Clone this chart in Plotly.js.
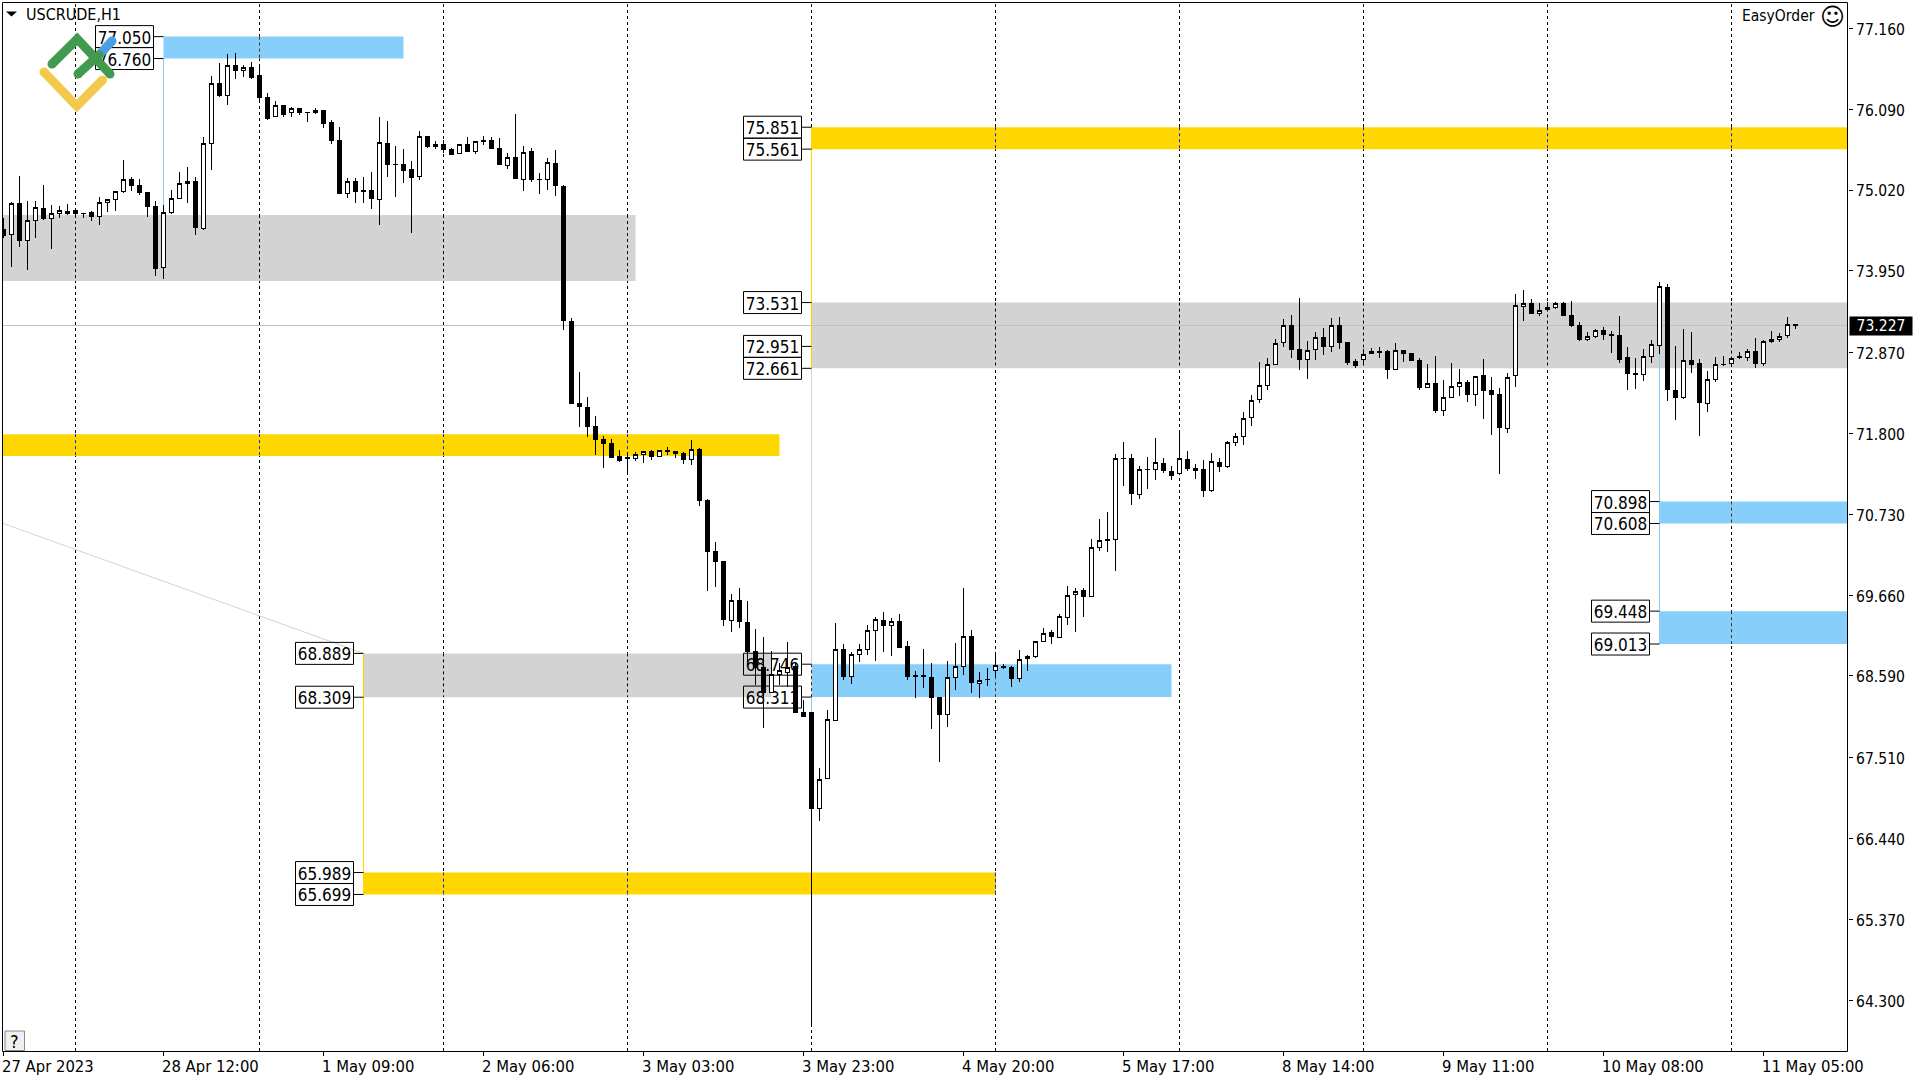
<!DOCTYPE html>
<html>
<head>
<meta charset="utf-8">
<script src="https://cdn.plot.ly/plotly-3.0.1.min.js"></script>
<style>html,body{margin:0;padding:0;background:#fff}#chart{width:1920px;height:1080px}
.boxes path{shape-rendering:crispEdges}
.layer-below .shapelayer path{shape-rendering:crispEdges}</style>
</head>
<body>
<div id="chart"></div>
<script>
const symbolName = "USCRUDE,H1";
const advisorName = "EasyOrder";
const lastPrice = 73.227;

const opens = [
74.50,74.434,74.844,74.35,74.619,74.778,74.645,74.712,74.738,74.751,
74.712,74.725,74.672,74.857,74.897,74.998,75.161,75.082,74.989,74.804,
73.997,74.725,74.906,75.104,75.135,74.509,75.633,76.431,76.273,76.67,
76.599,76.643,76.537,76.246,75.995,76.14,76.048,76.101,76.048,76.043,
76.074,75.916,75.677,74.976,75.135,75.011,75.016,74.897,75.638,75.364,
75.36,75.294,75.197,75.73,75.594,75.624,75.558,75.501,75.624,75.527,
75.669,75.682,75.572,75.342,75.452,75.161,75.532,75.166,75.161,75.373,
75.073,73.283,72.198,72.145,71.894,71.722,71.669,71.497,71.483,71.47,
71.519,71.563,71.497,71.572,71.563,71.536,71.453,71.593,70.914,70.239,
70.107,69.326,69.591,69.30,68.92,68.704,68.374,68.612,68.638,68.722,
68.109,68.109,66.835,67.236,68.003,68.943,68.585,68.876,68.938,69.194,
69.326,69.26,69.313,68.982,68.599,68.599,68.572,68.299,68.078,68.572,
68.713,69.115,68.488,68.55,68.665,68.722,68.704,68.554,68.823,68.845,
69.048,69.159,69.097,69.366,69.666,69.723,69.639,70.292,70.398,70.398,
71.474,71.469,70.993,71.328,71.324,71.403,71.298,71.271,71.456,71.342,
71.324,71.042,71.421,71.359,71.681,71.761,72.012,72.25,72.435,72.713,
73.004,73.229,72.912,72.779,72.912,73.07,72.951,73.229,73.004,72.753,
72.779,72.859,72.885,72.89,72.647,72.898,72.859,72.766,72.409,72.462,
72.105,72.277,72.422,72.475,72.317,72.568,72.37,72.317,71.867,72.564,
73.481,73.521,73.384,73.442,73.464,73.521,73.362,73.23,73.04,73.08,
73.164,73.111,73.098,72.807,72.595,72.582,72.815,72.961,73.733,72.37,
72.277,72.767,72.727,72.198,72.516,72.714,72.723,72.82,72.806,72.886,
72.723,73.018,73.045,73.098,73.243];

const highs = [
74.645,74.866,75.206,74.875,74.875,75.086,74.822,74.809,74.831,74.765,
74.712,74.742,74.932,74.901,75.011,75.417,75.192,75.161,74.998,74.875,
74.822,75.02,75.254,75.32,75.188,75.726,76.529,76.696,76.82,76.828,
76.67,76.709,76.652,76.299,76.193,76.14,76.123,76.101,76.057,76.11,
76.078,75.942,75.854,75.179,75.179,75.192,75.254,75.986,75.933,75.602,
75.563,75.40,75.801,75.735,75.673,75.682,75.572,75.624,75.721,75.669,
75.735,75.721,75.708,75.51,76.026,75.602,75.572,75.241,75.439,75.549,
75.086,73.322,72.612,72.282,72.03,71.766,71.722,71.58,71.558,71.55,
71.572,71.58,71.576,71.625,71.567,71.554,71.713,71.606,70.927,70.363,
70.111,69.675,69.75,69.578,69.212,69.106,68.92,68.766,69.04,68.757,
68.268,68.118,67.368,68.135,69.286,69.013,68.903,69.013,69.264,69.37,
69.432,69.357,69.41,69.053,68.656,68.947,68.757,68.312,68.788,69.026,
69.75,69.198,68.638,68.691,68.868,68.744,68.717,68.934,68.868,69.053,
69.22,69.198,69.414,69.78,69.75,69.75,70.402,70.667,70.759,71.527,
71.686,71.527,71.364,71.483,71.734,71.474,71.364,71.80,71.562,71.395,
71.443,71.54,71.474,71.695,71.80,72.083,72.303,72.744,72.793,73.044,
73.313,73.366,73.586,73.018,73.141,73.194,73.326,73.339,73.009,72.779,
72.912,72.925,72.938,72.898,72.996,72.903,72.863,72.793,72.718,72.824,
72.506,72.726,72.647,72.506,72.564,72.785,72.546,72.401,72.595,73.644,
73.697,73.578,73.525,73.534,73.539,73.534,73.552,73.27,73.142,73.181,
73.203,73.155,73.353,72.939,72.798,72.917,73.036,73.799,73.772,72.957,
73.181,73.142,72.78,72.626,72.807,72.824,72.815,72.873,72.912,73.058,
73.036,73.155,73.124,73.34,73.243];

const lows = [
74.381,74.006,74.271,73.962,74.385,74.623,74.24,74.654,74.69,74.645,
74.654,74.615,74.557,74.729,74.747,74.985,75.011,74.959,74.667,73.887,
73.847,74.698,74.897,74.853,74.429,74.496,75.285,76.251,76.145,76.489,
76.515,76.493,76.167,75.946,75.99,75.982,75.99,76.013,75.92,76.021,
75.841,75.633,74.967,74.914,74.853,74.853,74.769,74.557,75.192,74.932,
75.117,74.456,75.153,75.58,75.563,75.505,75.483,75.492,75.523,75.501,
75.62,75.563,75.351,75.298,75.166,75.011,75.131,74.967,75.02,74.945,
73.168,72.193,71.889,71.757,71.514,71.347,71.475,71.426,71.294,71.435,
71.409,71.448,71.488,71.519,71.479,71.395,71.382,70.843,69.714,69.767,
69.251,69.172,69.225,68.779,68.471,67.906,68.36,68.471,68.449,68.096,
68.052,63.96,66.676,67.232,67.999,68.537,68.484,68.775,68.868,68.788,
68.907,68.854,68.965,68.537,68.299,68.431,67.893,67.452,67.919,68.404,
68.603,68.365,68.299,68.457,68.572,68.678,68.444,68.515,68.656,68.832,
69.04,69.013,69.092,69.264,69.172,69.37,69.635,70.243,70.23,69.979,
71.103,70.852,70.931,71.064,71.183,71.28,71.187,71.262,71.306,71.196,
70.962,71.029,71.293,71.346,71.637,71.65,71.902,72.206,72.378,72.709,
72.947,72.801,72.638,72.524,72.775,72.841,72.881,72.916,72.709,72.669,
72.70,72.854,72.797,72.519,72.643,72.744,72.762,72.374,72.405,72.074,
72.034,72.263,72.299,72.219,72.167,71.995,71.779,71.267,71.81,72.418,
73.292,73.38,73.358,73.437,73.45,73.353,73.212,73.027,73.023,73.067,
73.04,72.864,72.727,72.374,72.388,72.493,72.736,72.851,72.229,71.977,
72.26,72.604,71.77,72.088,72.485,72.692,72.683,72.78,72.758,72.67,
72.692,73.0,73.014,73.067,73.181];

const closes = [
74.425,74.844,74.35,74.619,74.791,74.641,74.712,74.751,74.712,74.707,
74.707,74.667,74.857,74.892,75.003,75.161,75.078,74.985,74.80,73.98,
74.725,74.906,75.104,75.135,74.522,75.633,76.431,76.273,76.67,76.599,
76.643,76.515,76.242,75.973,76.14,76.026,76.101,76.043,76.043,76.074,
75.898,75.673,74.972,75.135,74.998,74.998,74.906,75.647,75.355,75.355,
75.276,75.183,75.73,75.594,75.624,75.554,75.488,75.62,75.527,75.66,
75.66,75.567,75.355,75.452,75.17,75.519,75.153,75.157,75.386,75.078,
73.292,72.193,72.154,71.889,71.713,71.669,71.479,71.439,71.47,71.519,
71.558,71.492,71.572,71.563,71.536,71.453,71.585,70.909,70.235,70.102,
69.335,69.591,69.309,68.912,68.704,68.374,68.612,68.665,68.709,68.105,
68.052,66.835,67.223,68.012,68.943,68.581,68.876,68.938,69.189,69.339,
69.256,69.313,68.973,68.581,68.585,68.585,68.303,68.078,68.572,68.713,
69.115,68.502,68.532,68.541,68.731,68.70,68.554,68.81,68.85,69.048,
69.154,69.11,69.379,69.657,69.71,69.639,70.292,70.385,70.385,71.469,
71.465,71.002,71.324,71.32,71.417,71.306,71.24,71.47,71.333,71.306,
71.042,71.43,71.359,71.681,71.761,71.999,72.237,72.435,72.713,72.991,
73.229,72.912,72.779,72.898,73.07,72.947,73.229,73.004,72.74,72.70,
72.846,72.885,72.876,72.647,72.898,72.859,72.766,72.405,72.462,72.10,
72.277,72.418,72.475,72.312,72.555,72.366,72.313,71.876,72.542,73.495,
73.521,73.384,73.428,73.468,73.521,73.358,73.226,73.036,73.084,73.164,
73.106,73.093,72.776,72.59,72.577,72.82,72.979,73.746,72.379,72.273,
72.767,72.71,72.207,72.516,72.71,72.705,72.793,72.802,72.886,72.727,
73.014,73.045,73.084,73.243,73.227];

const priceTicks = [77.16,76.09,75.02,73.95,72.87,71.80,70.73,69.66,68.59,67.51,66.44,65.37,64.30];
const timeTickBars = [0,20,40,60,80,100,120,140,160,180,200,220];
const timeTickLabels = ["27 Apr 2023","28 Apr 12:00","1 May 09:00","2 May 06:00","3 May 03:00","3 May 23:00","4 May 20:00","5 May 17:00","8 May 14:00","9 May 11:00","10 May 08:00","11 May 05:00"];
const separatorBars = [9,32,55,78,101,124,147,170,193,216];

const BLUE = "#87CEFA", GOLD = "#FFD700", GRAY = "#D3D3D3";
const uiFont = "DejaVu Sans Condensed";
const xMin = -0.1875, xMax = 230.5625, yMin = 63.628, yMax = 77.508;

const zoneStart  = [20, 0, 0, 45, 45, 101, 101, 101, 207, 207];
const zoneEnd    = [50, 79, 97, 96, 124, 146, xMax, xMax, xMax, xMax];
const zoneUpper  = [77.05, 74.689, 71.79, 68.889, 65.989, 68.746, 75.851, 73.531, 70.898, 69.448];
const zoneLower  = [76.76, 73.816, 71.50, 68.309, 65.699, 68.311, 75.561, 72.661, 70.608, 69.013];
const zoneColor  = [BLUE, GRAY, GOLD, GRAY, GOLD, BLUE, GOLD, GRAY, BLUE, BLUE];
const zoneDash   = ["#5a2a00","#000000","#0a28d0","#000000","#0a28d0","#5a2a00","#0a28d0","#000000","#5a2a00","#5a2a00"];
const zoneLabeled= [true,false,false,true,true,true,true,true,true,true];
const midLevelBar = 101, midLevel = 72.951;

const xs = opens.map((_, i) => i);

const shapes = [];
const solid = (x0,y0,x1,y1,color,width) => shapes.push({type:"line",layer:"below",xref:"x",yref:"y",x0,y0,x1,y1,line:{color,width:width||1}});

separatorBars.forEach(b => shapes.push({type:"line",layer:"below",xref:"x",yref:"y",x0:b,x1:b,y0:yMin,y1:yMax,line:{color:"#000",width:1,dash:"3px,3px"}}));

zoneStart.forEach((s,k) => shapes.push({type:"rect",layer:"below",xref:"x",yref:"y",x0:s===0?xMin:s,x1:zoneEnd[k],y0:zoneLower[k],y1:zoneUpper[k],fillcolor:zoneColor[k],line:{width:0}}));

zoneStart.forEach((s,k) => separatorBars.forEach(b => {
  if (b >= s && b <= zoneEnd[k]) shapes.push({type:"line",layer:"below",xref:"x",yref:"y",x0:b,x1:b,y0:zoneUpper[k],y1:zoneLower[k],line:{color:zoneDash[k],width:1,dash:"3px,3px"}});
}));

solid(xMin,lastPrice,xMax,lastPrice,"#C0C0C0",1);

solid(20,76.76,20,73.85,BLUE);
solid(45,68.889,45,65.699,GOLD);
solid(101,75.851,101,72.661,GOLD);
solid(101,72.661,101,68.746,GRAY);
solid(101,68.311,101,67.5,BLUE);
solid(207,72.85,207,69.013,BLUE);
solid(xMin,70.614,45,68.889,GRAY);

const boxH = 0.1455;
const priceLabel = (bar,level) => {
  solid(bar-1.25,level,bar,level,"#000",1);
  shapes.push({type:"rect",layer:"below",xref:"x",yref:"y",x0:bar-8.5,x1:bar-1.25,y0:level-boxH,y1:level+boxH,
    fillcolor:"rgba(0,0,0,0)",line:{color:"#000",width:1},
    label:{text:level.toFixed(3),textposition:"middle center",font:{family:uiFont,size:17,color:"#000"}}});
};
zoneStart.forEach((s,k) => { if (zoneLabeled[k]) { priceLabel(s,zoneUpper[k]); priceLabel(s,zoneLower[k]); } });
priceLabel(midLevelBar,midLevel);

const PX = x => (x-2)/1846, PY = y => 1-(y-2)/1049;
const path = (pts,close) => "M"+pts.map(p=>PX(p[0]).toFixed(5)+","+PY(p[1]).toFixed(5)).join("L")+(close?"Z":"");
const stroke = (pts,color,width) => {
  shapes.push({type:"path",layer:"above",xref:"paper",yref:"paper",path:path(pts),fillcolor:"rgba(0,0,0,0)",line:{color,width}});
  [pts[0],pts[pts.length-1]].forEach(p => shapes.push({type:"circle",layer:"above",xref:"paper",yref:"paper",
    x0:PX(p[0]-width/2),x1:PX(p[0]+width/2),y0:PY(p[1]+width/2),y1:PY(p[1]-width/2),fillcolor:color,line:{width:0}}));
};
shapes.push({type:"rect",layer:"above",xref:"paper",yref:"paper",x0:PX(2.5),x1:PX(1847.5),y0:PY(1051.5),y1:PY(2.5),fillcolor:"rgba(0,0,0,0)",line:{color:"#000",width:1}});
shapes.push({type:"path",layer:"above",xref:"paper",yref:"paper",path:path([[6,11.5],[17,11.5],[11.5,16.5]],true),fillcolor:"#000",line:{width:0}});
stroke([[44,72],[76.7,106],[102.5,80]],"#F2C94C",9);
stroke([[52,64],[77.3,39],[110,74]],"#429A4F",9);
stroke([[98,56],[112,41]],"#4A9FDF",9);
stroke([[78,74],[99,55]],"#429A4F",9);
shapes.push({type:"rect",layer:"above",xref:"paper",yref:"paper",x0:PX(5),x1:PX(24.5),y0:PY(1050.5),y1:PY(1031),fillcolor:"#F0F0F0",line:{color:"#8a8a8a",width:1}});

const annotations = [
  {xref:"paper",yref:"paper",x:PX(24),y:PY(15),xanchor:"left",yanchor:"middle",showarrow:false,text:symbolName,font:{family:uiFont,size:16,color:"#000"}},
  {xref:"paper",yref:"paper",x:PX(1817),y:PY(16),xanchor:"right",yanchor:"middle",showarrow:false,text:advisorName,font:{family:uiFont,size:15.5,color:"#000"}},
  {xref:"paper",yref:"paper",x:PX(1832),y:PY(17),xanchor:"center",yanchor:"middle",showarrow:false,text:"\u263A",font:{family:"DejaVu Sans",size:24,color:"#000"}},
  {xref:"paper",yref:"paper",x:PX(14.5),y:PY(1041),xanchor:"center",yanchor:"middle",showarrow:false,text:"?",font:{family:uiFont,size:18,color:"#000"}},
  {xref:"paper",yref:"y",x:PX(1849),y:lastPrice,xanchor:"left",yanchor:"middle",showarrow:false,text:lastPrice.toFixed(3),
   bgcolor:"#000",width:62,height:18,borderpad:0,font:{family:uiFont,size:15.5,color:"#fff"}}
];

const trace = {
  type:"candlestick", x:xs, open:opens, high:highs, low:lows, close:closes,
  whiskerwidth:0,
  increasing:{line:{color:"#000",width:1},fillcolor:"#fff"},
  decreasing:{line:{color:"#000",width:1},fillcolor:"#000"},
  hoverinfo:"skip", showlegend:false
};

const layout = {
  width:1920, height:1080, autosize:false,
  paper_bgcolor:"#fff", plot_bgcolor:"#fff",
  margin:{l:2,r:72,t:2,b:29,pad:0},
  boxgap:0.2857, showlegend:false, hovermode:false, dragmode:false,
  xaxis:{type:"linear",range:[xMin,xMax],rangeslider:{visible:false},fixedrange:true,
    tickmode:"array",tickvals:timeTickBars,ticktext:timeTickLabels,ticks:"outside",ticklen:4,tickwidth:1,tickcolor:"#000",
    ticklabelposition:"outside right",ticklabelshift:-2,tickfont:{family:uiFont,size:16.5,color:"#000"},
    showgrid:false,zeroline:false,showline:false},
  yaxis:{type:"linear",side:"right",range:[yMin,yMax],fixedrange:true,
    tickmode:"array",tickvals:priceTicks,ticktext:priceTicks.map(v=>v.toFixed(3)),ticks:"outside",ticklen:4,tickwidth:1,tickcolor:"#000",
    ticklabelshift:1,tickfont:{family:uiFont,size:15.5,color:"#000"},
    showgrid:false,zeroline:false,showline:false},
  shapes, annotations
};

Plotly.newPlot("chart",[trace],layout,{staticPlot:true,displayModeBar:false});
</script>
</body>
</html>
